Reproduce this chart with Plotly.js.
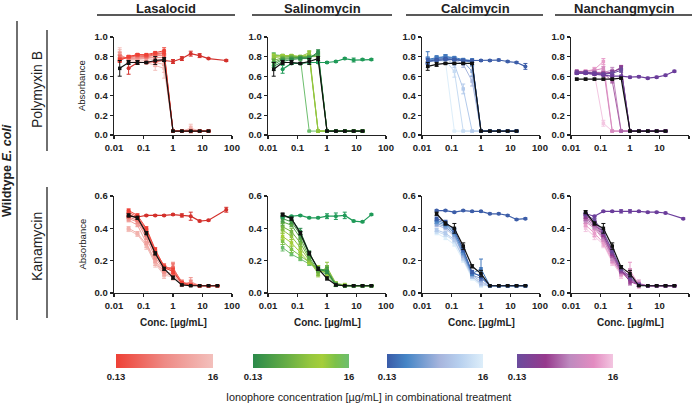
<!DOCTYPE html>
<html><head><meta charset="utf-8">
<script src="https://cdn.plot.ly/plotly-3.0.1.min.js"></script>
<style>html,body{margin:0;padding:0;background:#fff}#chart{width:696px;height:404px}</style>
</head><body><div id="chart"></div>
<script>
const W = 696, H = 404;
const FONT = 'Liberation Sans, Arial, Helvetica, sans-serif';

// ---------- concentrations ----------
const X_TOP   = [0.015625,0.03125,0.0625,0.125,0.25,0.5,1,2,4,8,16];
const X_BOT   = [0.03125,0.0625,0.125,0.25,0.5,1,2,4,8,16,32];
const X_ION_A = [0.03125,0.0625,0.125,0.25,0.5,1,2,4,8,16,64];
const X_ION_B = [0.03125,0.0625,0.125,0.25,0.5,1,2,4,8,16,32];
const X_ION_C = [0.015625,0.03125,0.0625,0.125,0.25,0.5,1,2,4,8,16,32];
const COMBO_CONC = [0.125,0.25,0.5,1,2,4,8,16];

const COLUMNS = ['Lasalocid','Salinomycin','Calcimycin','Nanchangmycin'];
const ROWS = ['Polymyxin B','Kanamycin'];
const X_TICKS = [0.01,0.1,1,10,100];
const X_TICK_TEXT = ['0.01','0.1','1','10','100'];

// ---------- Polymyxin B row ----------
const LAS_PMB_COMBO = [
 [0.76,0.80,0.82,0.82,0.84,0.86,0.04,0.04,0.04,0.04,0.04],
 [0.77,0.80,0.82,0.81,0.83,0.84,0.04,0.04,0.04,0.04,0.04],
 [0.78,0.79,0.81,0.80,0.82,0.83,0.04,0.04,0.04,0.04,0.04],
 [0.79,0.79,0.80,0.80,0.81,0.81,0.04,0.04,0.04,0.04,0.04],
 [0.80,0.78,0.79,0.79,0.79,0.79,0.04,0.04,0.04,0.04,0.04],
 [0.81,0.78,0.78,0.78,0.77,0.76,0.04,0.04,0.04,0.04,0.04],
 [0.82,0.77,0.77,0.76,0.74,0.72,0.04,0.04,0.06,0.04,0.04],
 [0.83,0.76,0.75,0.74,0.71,0.68,0.04,0.04,0.07,0.04,0.04]];
const LAS_PMB_COMBO_ERR = [
 [0.02,0.01,0.01,0.01,0.01,0.03,0,0,0,0,0],
 [0.02,0.01,0.01,0.01,0.01,0.02,0,0,0,0,0],
 [0.03,0.01,0.01,0.01,0.01,0.02,0,0,0,0,0],
 [0.03,0.01,0.01,0.01,0.01,0.02,0,0,0,0,0],
 [0.04,0.02,0.01,0.01,0.02,0.03,0,0,0,0,0],
 [0.04,0.02,0.02,0.02,0.03,0.05,0,0,0.02,0,0],
 [0.05,0.02,0.02,0.02,0.04,0.08,0,0,0.03,0,0],
 [0.06,0.03,0.02,0.02,0.05,0.10,0,0,0.04,0,0]];
const LAS_PMB_BLACK = [0.68,0.74,0.74,0.74,0.76,0.77,0.04,0.04,0.04,0.04,0.04];
const LAS_PMB_BLACK_ERR = [0.08,0.02,0.02,0.01,0.04,0.02,0,0,0,0,0];
const LAS_PMB_ION = [0.68,0.74,0.74,0.75,0.76,0.75,0.78,0.83,0.81,0.78,0.76];
const LAS_PMB_ION_ERR = [0.06,0.02,0.01,0.01,0.01,0.02,0.02,0.025,0.02,0.005,0.01];

const SAL_PMB_COMBO = [
 [0.70,0.75,0.77,0.78,0.78,0.85,0.04,0.04,0.04,0.04,0.04],
 [0.72,0.77,0.78,0.79,0.79,0.83,0.04,0.04,0.04,0.04,0.04],
 [0.74,0.78,0.79,0.79,0.80,0.82,0.04,0.04,0.04,0.04,0.04],
 [0.76,0.79,0.80,0.80,0.80,0.80,0.04,0.04,0.04,0.04,0.04],
 [0.79,0.80,0.81,0.80,0.84,0.04,0.04,0.04,0.04,0.04,0.04],
 [0.80,0.81,0.81,0.80,0.82,0.04,0.04,0.04,0.04,0.04,0.04],
 [0.81,0.81,0.80,0.79,0.80,0.04,0.04,0.04,0.04,0.04,0.04],
 [0.82,0.81,0.80,0.78,0.04,0.04,0.04,0.04,0.04,0.04,0.04]];
const SAL_PMB_COMBO_ERR = [
 [0.04,0.02,0.01,0.01,0.01,0.02,0,0,0,0,0],
 [0.03,0.01,0.01,0.01,0.01,0.02,0,0,0,0,0],
 [0.03,0.01,0.01,0.01,0.01,0.02,0,0,0,0,0],
 [0.02,0.01,0.01,0.01,0.01,0.02,0,0,0,0,0],
 [0.02,0.01,0.01,0.01,0.02,0,0,0,0,0,0],
 [0.02,0.01,0.01,0.01,0.03,0,0,0,0,0,0],
 [0.02,0.01,0.01,0.01,0.02,0,0,0,0,0,0],
 [0.02,0.01,0.01,0.02,0,0,0,0,0,0,0]];
const SAL_PMB_BLACK = [0.67,0.74,0.74,0.73,0.75,0.78,0.04,0.04,0.04,0.04,0.04];
const SAL_PMB_BLACK_ERR = [0.07,0.02,0.02,0.01,0.03,0.02,0,0,0,0,0];
const SAL_PMB_ION = [0.67,0.73,0.73,0.74,0.74,0.74,0.75,0.78,0.765,0.77,0.77];
const SAL_PMB_ION_ERR = [0.04,0.01,0.01,0.01,0.01,0.01,0.01,0.01,0.02,0.01,0.01];

const CAL_PMB_COMBO = [
 [0.75,0.77,0.78,0.77,0.76,0.75,0.04,0.04,0.04,0.04,0.04],
 [0.77,0.79,0.80,0.79,0.77,0.76,0.04,0.04,0.04,0.04,0.04],
 [0.76,0.78,0.80,0.78,0.76,0.74,0.04,0.04,0.04,0.04,0.04],
 [0.77,0.78,0.79,0.78,0.75,0.65,0.04,0.04,0.04,0.04,0.04],
 [0.76,0.78,0.79,0.77,0.72,0.55,0.04,0.04,0.04,0.04,0.04],
 [0.76,0.78,0.78,0.72,0.47,0.04,0.04,0.04,0.04,0.04,0.04],
 [0.75,0.77,0.76,0.65,0.04,0.04,0.04,0.04,0.04,0.04,0.04],
 [0.74,0.76,0.75,0.04,0.04,0.04,0.04,0.04,0.04,0.04,0.04]];
const CAL_PMB_COMBO_ERR = [
 [0.03,0.01,0.01,0.01,0.01,0.01,0,0,0,0,0],
 [0.08,0.02,0.02,0.01,0.01,0.02,0,0,0,0,0],
 [0.03,0.02,0.02,0.01,0.02,0.03,0,0,0,0,0],
 [0.03,0.02,0.02,0.02,0.03,0.05,0,0,0,0,0],
 [0.03,0.02,0.02,0.02,0.03,0.05,0,0,0,0,0],
 [0.03,0.02,0.02,0.03,0.05,0,0,0,0,0,0],
 [0.03,0.02,0.02,0.06,0,0,0,0,0,0,0],
 [0.03,0.02,0.02,0,0,0,0,0,0,0,0]];
const CAL_PMB_BLACK = [0.70,0.72,0.73,0.73,0.73,0.73,0.04,0.04,0.04,0.04,0.04];
const CAL_PMB_BLACK_ERR = [0.04,0.02,0.01,0.01,0.01,0.01,0,0,0,0,0];
const CAL_PMB_ION = [0.75,0.76,0.77,0.77,0.76,0.76,0.76,0.76,0.765,0.75,0.74,0.70];
const CAL_PMB_ION_ERR = [0.02,0.01,0.01,0.01,0.01,0.01,0.01,0.01,0.01,0.01,0.01,0.03];

const NAN_PMB_COMBO = [
 [0.64,0.64,0.63,0.62,0.63,0.66,0.04,0.04,0.04,0.04,0.04],
 [0.63,0.63,0.62,0.62,0.64,0.68,0.04,0.04,0.04,0.04,0.04],
 [0.65,0.64,0.63,0.63,0.64,0.69,0.04,0.04,0.04,0.04,0.04],
 [0.63,0.64,0.64,0.63,0.55,0.04,0.04,0.04,0.04,0.04,0.04],
 [0.64,0.63,0.64,0.64,0.66,0.04,0.04,0.04,0.04,0.04,0.04],
 [0.65,0.65,0.66,0.68,0.04,0.04,0.04,0.04,0.04,0.04,0.04],
 [0.64,0.65,0.67,0.75,0.04,0.04,0.04,0.04,0.04,0.04,0.04],
 [0.63,0.64,0.62,0.12,0.04,0.04,0.04,0.04,0.04,0.04,0.04]];
const NAN_PMB_COMBO_ERR = [
 [0.01,0.01,0.01,0.01,0.01,0.02,0,0,0,0,0],
 [0.01,0.01,0.01,0.01,0.02,0.02,0,0,0,0,0],
 [0.01,0.01,0.01,0.01,0.02,0.02,0,0,0,0,0],
 [0.01,0.01,0.01,0.01,0.02,0,0,0,0,0,0],
 [0.01,0.01,0.01,0.01,0.03,0,0,0,0,0,0],
 [0.01,0.01,0.01,0.02,0,0,0,0,0,0,0],
 [0.01,0.01,0.02,0.03,0,0,0,0,0,0,0],
 [0.01,0.01,0.01,0.03,0,0,0,0,0,0,0]];
const NAN_PMB_BLACK = [0.57,0.57,0.57,0.57,0.57,0.58,0.04,0.04,0.04,0.04,0.04];
const NAN_PMB_BLACK_ERR = [0.01,0.01,0.01,0.01,0.01,0.01,0,0,0,0,0];
const NAN_PMB_ION = [0.63,0.63,0.62,0.61,0.60,0.60,0.59,0.595,0.58,0.59,0.61,0.65];
const NAN_PMB_ION_ERR = [0.01,0.01,0.01,0.01,0.01,0.01,0.01,0.01,0.01,0.01,0.01,0.01];

// ---------- Kanamycin row ----------
const LAS_KAN_COMBO = [
 [0.51,0.48,0.40,0.27,0.16,0.13,0.06,0.05,0.045,0.045,0.045],
 [0.50,0.47,0.39,0.26,0.17,0.14,0.06,0.05,0.045,0.045,0.045],
 [0.49,0.46,0.38,0.25,0.16,0.15,0.07,0.05,0.045,0.045,0.045],
 [0.47,0.45,0.36,0.24,0.15,0.16,0.06,0.06,0.045,0.045,0.045],
 [0.46,0.44,0.34,0.22,0.14,0.15,0.05,0.07,0.045,0.045,0.045],
 [0.45,0.42,0.31,0.20,0.13,0.12,0.05,0.05,0.045,0.045,0.045],
 [0.40,0.37,0.30,0.19,0.12,0.11,0.05,0.05,0.045,0.045,0.045],
 [0.39,0.36,0.29,0.18,0.11,0.10,0.05,0.05,0.045,0.045,0.045]];
const LAS_KAN_COMBO_ERR = [
 [0.01,0.01,0.01,0.01,0.01,0.02,0.01,0,0,0,0],
 [0.01,0.01,0.01,0.01,0.01,0.02,0.01,0,0,0,0],
 [0.01,0.01,0.01,0.01,0.01,0.03,0.01,0,0,0,0],
 [0.01,0.01,0.01,0.01,0.02,0.03,0.01,0.02,0,0,0],
 [0.01,0.01,0.01,0.01,0.02,0.03,0.01,0.025,0,0,0],
 [0.01,0.01,0.01,0.01,0.02,0.02,0.01,0.01,0,0,0],
 [0.01,0.01,0.02,0.02,0.02,0.02,0.01,0.01,0,0,0],
 [0.01,0.01,0.02,0.02,0.02,0.02,0.01,0.01,0,0,0]];
const LAS_KAN_BLACK = [0.48,0.465,0.37,0.245,0.15,0.095,0.05,0.045,0.045,0.045,0.045];
const LAS_KAN_BLACK_ERR = [0.01,0.01,0.01,0.01,0.01,0.01,0.005,0,0,0,0];
const LAS_KAN_ION = [0.475,0.47,0.48,0.48,0.48,0.485,0.48,0.475,0.445,0.45,0.515];
const LAS_KAN_ION_ERR = [0.005,0.005,0.005,0.005,0.005,0.005,0.01,0.025,0.005,0.005,0.015];

const SAL_KAN_COMBO = [
 [0.48,0.46,0.38,0.25,0.15,0.13,0.05,0.045,0.045,0.045,0.045],
 [0.46,0.44,0.36,0.24,0.15,0.14,0.05,0.045,0.045,0.045,0.045],
 [0.44,0.42,0.34,0.22,0.14,0.14,0.05,0.045,0.045,0.045,0.045],
 [0.41,0.38,0.31,0.21,0.13,0.15,0.055,0.045,0.045,0.045,0.045],
 [0.39,0.35,0.28,0.20,0.12,0.16,0.06,0.05,0.045,0.045,0.045],
 [0.35,0.31,0.25,0.19,0.14,0.13,0.05,0.045,0.045,0.045,0.045],
 [0.32,0.27,0.23,0.19,0.15,0.12,0.05,0.045,0.045,0.045,0.045],
 [0.28,0.24,0.21,0.18,0.15,0.11,0.05,0.045,0.045,0.045,0.045]];
const SAL_KAN_COMBO_ERR = [
 [0.01,0.01,0.02,0.01,0.01,0.01,0.01,0,0,0,0],
 [0.02,0.01,0.02,0.01,0.01,0.02,0.01,0,0,0,0],
 [0.02,0.01,0.02,0.01,0.01,0.02,0.01,0,0,0,0],
 [0.02,0.02,0.02,0.01,0.02,0.02,0.01,0,0,0,0],
 [0.02,0.02,0.02,0.01,0.02,0.03,0.01,0.01,0,0,0],
 [0.02,0.02,0.02,0.01,0.03,0.02,0.01,0,0,0,0],
 [0.02,0.02,0.02,0.01,0.02,0.02,0.01,0,0,0,0],
 [0.02,0.01,0.01,0.01,0.02,0.02,0.01,0,0,0,0]];
const SAL_KAN_BLACK = [0.485,0.46,0.37,0.245,0.15,0.09,0.05,0.045,0.045,0.045,0.045];
const SAL_KAN_BLACK_ERR = [0.01,0.01,0.01,0.01,0.01,0.01,0.005,0,0,0,0];
const SAL_KAN_ION = [0.47,0.475,0.48,0.465,0.465,0.475,0.475,0.48,0.445,0.44,0.485];
const SAL_KAN_ION_ERR = [0.005,0.005,0.005,0.005,0.005,0.015,0.02,0.02,0.005,0.005,0.005];

const CAL_KAN_COMBO = [
 [0.46,0.44,0.39,0.27,0.13,0.10,0.045,0.045,0.045,0.045,0.045],
 [0.45,0.43,0.38,0.26,0.12,0.15,0.045,0.045,0.045,0.045,0.045],
 [0.44,0.42,0.37,0.25,0.12,0.11,0.045,0.045,0.045,0.045,0.045],
 [0.43,0.41,0.36,0.24,0.11,0.09,0.045,0.045,0.045,0.045,0.045],
 [0.42,0.40,0.35,0.23,0.11,0.07,0.045,0.045,0.045,0.045,0.045],
 [0.39,0.37,0.33,0.22,0.10,0.06,0.045,0.045,0.045,0.045,0.045],
 [0.38,0.36,0.32,0.21,0.10,0.05,0.045,0.045,0.045,0.045,0.045],
 [0.37,0.34,0.30,0.20,0.09,0.045,0.045,0.045,0.045,0.045,0.045]];
const CAL_KAN_COMBO_ERR = [
 [0.01,0.01,0.01,0.01,0.01,0.02,0,0,0,0,0],
 [0.01,0.01,0.01,0.01,0.01,0.06,0,0,0,0,0],
 [0.01,0.01,0.01,0.01,0.01,0.02,0,0,0,0,0],
 [0.01,0.01,0.01,0.01,0.01,0.02,0,0,0,0,0],
 [0.01,0.01,0.01,0.01,0.01,0.02,0,0,0,0,0],
 [0.01,0.01,0.01,0.01,0.01,0.01,0,0,0,0,0],
 [0.01,0.01,0.01,0.01,0.01,0.01,0,0,0,0,0],
 [0.01,0.01,0.01,0.01,0.01,0.01,0,0,0,0,0]];
const CAL_KAN_BLACK = [0.49,0.43,0.40,0.29,0.165,0.12,0.045,0.045,0.045,0.045,0.045];
const CAL_KAN_BLACK_ERR = [0.01,0.01,0.03,0.02,0.01,0.02,0,0,0,0,0];
const CAL_KAN_ION = [0.51,0.51,0.50,0.51,0.505,0.505,0.49,0.49,0.48,0.455,0.46];
const CAL_KAN_ION_ERR = [0.005,0.005,0.005,0.005,0.005,0.005,0.005,0.005,0.005,0.005,0.005];

const NAN_KAN_COMBO = [
 [0.49,0.45,0.38,0.26,0.15,0.10,0.05,0.045,0.045,0.045,0.045],
 [0.48,0.44,0.37,0.25,0.14,0.09,0.05,0.045,0.045,0.045,0.045],
 [0.47,0.43,0.36,0.24,0.14,0.07,0.05,0.045,0.045,0.045,0.045],
 [0.46,0.42,0.35,0.23,0.13,0.08,0.05,0.045,0.045,0.045,0.045],
 [0.45,0.41,0.34,0.22,0.13,0.10,0.05,0.045,0.045,0.045,0.045],
 [0.44,0.40,0.33,0.21,0.12,0.12,0.06,0.045,0.045,0.045,0.045],
 [0.42,0.37,0.31,0.20,0.12,0.14,0.05,0.045,0.045,0.045,0.045],
 [0.40,0.35,0.30,0.19,0.11,0.12,0.05,0.045,0.045,0.045,0.045]];
const NAN_KAN_COMBO_ERR = [
 [0.01,0.01,0.01,0.01,0.01,0.01,0.01,0,0,0,0],
 [0.01,0.01,0.01,0.01,0.01,0.01,0.01,0,0,0,0],
 [0.01,0.01,0.01,0.01,0.01,0.02,0.01,0,0,0,0],
 [0.01,0.01,0.01,0.01,0.01,0.02,0.01,0,0,0,0],
 [0.01,0.01,0.01,0.02,0.01,0.02,0.01,0,0,0,0],
 [0.01,0.01,0.01,0.02,0.01,0.03,0.02,0,0,0,0],
 [0.01,0.02,0.02,0.02,0.02,0.05,0.02,0,0,0,0],
 [0.02,0.02,0.02,0.02,0.02,0.03,0.01,0,0,0,0]];
const NAN_KAN_BLACK = [0.50,0.43,0.40,0.29,0.16,0.12,0.045,0.045,0.045,0.045,0.045];
const NAN_KAN_BLACK_ERR = [0.01,0.01,0.03,0.02,0.01,0.02,0,0,0,0,0];
const NAN_KAN_ION = [0.49,0.475,0.505,0.505,0.505,0.505,0.505,0.50,0.50,0.495,0.46];
const NAN_KAN_ION_ERR = [0.005,0.005,0.005,0.005,0.01,0.01,0.005,0.005,0.005,0.005,0.005];

// ---------- colour scales ----------
const SCALE_RED = [[0,'#EE4136'],[0.5,'#EE8A85'],[1,'#F3C0BC']];
const SCALE_GREEN = [[0,'#2B8A4B'],[0.35,'#66AD45'],[0.6,'#96C73E'],[0.72,'#A5CE3A'],[0.86,'#7CC149'],[1,'#6DBE6E']];
const SCALE_BLUE = [[0,'#3A5BA8'],[0.2,'#4585C6'],[0.55,'#A7B5DD'],[0.75,'#B6CFEE'],[1,'#DDEEFA']];
const SCALE_PURPLE = [[0,'#6B4C9D'],[0.3,'#97398D'],[0.55,'#BE8ABF'],[0.8,'#E38CC1'],[1,'#F3C6E1']];
const ION_COLORS = ['#D3302B','#1F9A58','#3C5DA8','#6B3D9B'];
const SCALES = [SCALE_RED, SCALE_GREEN, SCALE_BLUE, SCALE_PURPLE];

function hex2rgb(h){return [1,3,5].map(i=>parseInt(h.substr(i,2),16));}
function sampleScale(sc,t){
  for(let i=1;i<sc.length;i++){
    if(t<=sc[i][0]+1e-9){
      const a=sc[i-1],b=sc[i];const f=(t-a[0])/(b[0]-a[0]||1);
      const ca=hex2rgb(a[1]),cb=hex2rgb(b[1]);
      const c=ca.map((v,k)=>Math.round(v+(cb[k]-v)*f));
      return 'rgb('+c.join(',')+')';
    }
  }
  return sc[sc.length-1][1];
}

// ---------- geometry (pixels) ----------
const X_DOM_PX = [[114,232],[268,386],[422,540],[571,689]];
const Y_DOM_PX = [[37,135],[196,293]];
const Y_MAX = [1.0, 0.6];
const px = v => v/W, py = v => 1 - v/H;

const PANELS = [
 [X_TOP,LAS_PMB_COMBO,LAS_PMB_COMBO_ERR,X_TOP,LAS_PMB_BLACK,LAS_PMB_BLACK_ERR,X_ION_A,LAS_PMB_ION,LAS_PMB_ION_ERR],
 [X_TOP,SAL_PMB_COMBO,SAL_PMB_COMBO_ERR,X_TOP,SAL_PMB_BLACK,SAL_PMB_BLACK_ERR,X_ION_B,SAL_PMB_ION,SAL_PMB_ION_ERR],
 [X_TOP,CAL_PMB_COMBO,CAL_PMB_COMBO_ERR,X_TOP,CAL_PMB_BLACK,CAL_PMB_BLACK_ERR,X_ION_C,CAL_PMB_ION,CAL_PMB_ION_ERR],
 [X_TOP,NAN_PMB_COMBO,NAN_PMB_COMBO_ERR,X_TOP,NAN_PMB_BLACK,NAN_PMB_BLACK_ERR,X_ION_C,NAN_PMB_ION,NAN_PMB_ION_ERR],
 [X_BOT,LAS_KAN_COMBO,LAS_KAN_COMBO_ERR,X_BOT,LAS_KAN_BLACK,LAS_KAN_BLACK_ERR,X_ION_A,LAS_KAN_ION,LAS_KAN_ION_ERR],
 [X_BOT,SAL_KAN_COMBO,SAL_KAN_COMBO_ERR,X_BOT,SAL_KAN_BLACK,SAL_KAN_BLACK_ERR,X_ION_B,SAL_KAN_ION,SAL_KAN_ION_ERR],
 [X_BOT,CAL_KAN_COMBO,CAL_KAN_COMBO_ERR,X_BOT,CAL_KAN_BLACK,CAL_KAN_BLACK_ERR,X_ION_B,CAL_KAN_ION,CAL_KAN_ION_ERR],
 [X_BOT,NAN_KAN_COMBO,NAN_KAN_COMBO_ERR,X_BOT,NAN_KAN_BLACK,NAN_KAN_BLACK_ERR,X_ION_A,NAN_KAN_ION,NAN_KAN_ION_ERR]
];

const traces = [];
const layout = {
  width: W, height: H, margin:{l:0,r:0,t:0,b:0},
  paper_bgcolor:'#fff', plot_bgcolor:'rgba(0,0,0,0)',
  showlegend:false, font:{family:FONT,color:'#222'},
  annotations:[], shapes:[]
};

function line(x,y,err,color,xa,ya,w,sym,size){
  traces.push({type:'scatter',mode:'lines+markers',x:x,y:y,xaxis:xa,yaxis:ya,
    line:{color:color,width:w},marker:{color:color,size:size,symbol:sym},
    error_y:{type:'data',array:err,visible:true,color:color,thickness:1,width:2},
    hoverinfo:'skip',cliponaxis:false});
}

PANELS.forEach((p,i)=>{
  const row=Math.floor(i/4), col=i%4;
  const n=i+1, xa='x'+(n>1?n:''), ya='y'+(n>1?n:'');
  const [xc,combos,cerr,xb,black,berr,xi,ion,ierr]=p;
  for(let k=combos.length-1;k>=0;k--){
    const c=sampleScale(SCALES[col],k/(combos.length-1));
    line(xc,combos[k],cerr[k],c,xa,ya,1,'square',3.5);
  }
  line(xi,ion,ierr,ION_COLORS[col],xa,ya,1.2,'circle',4);
  line(xb,black,berr,'#111',xa,ya,1.2,'square',3.5);
  const xd=X_DOM_PX[col], yd=Y_DOM_PX[row];
  layout['xaxis'+(n>1?n:'')]={
    domain:[px(xd[0]),px(xd[1])], anchor:ya, type:'log', range:[-2,2],
    showline:true, linecolor:'#222', linewidth:1.3, mirror:false,
    ticks:'outside', ticklen:3, tickwidth:1.2, tickcolor:'#222',
    tickvals:X_TICKS, ticktext:X_TICK_TEXT.map(t=>'<b>'+t+'</b>'),
    tickfont:{size:9.5,family:FONT,color:'#222'}, showgrid:false, zeroline:false, fixedrange:true
  };
  const ymax=Y_MAX[row];
  const yv=[]; for(let v=0; v<=ymax+1e-9; v+=0.2) yv.push(+v.toFixed(1));
  layout['yaxis'+(n>1?n:'')]={
    domain:[py(yd[1]),py(yd[0])], anchor:xa, range:[0,ymax],
    showline:true, linecolor:'#222', linewidth:1.3,
    ticks:'outside', ticklen:3, tickwidth:1.2, tickcolor:'#222',
    tickvals:yv, ticktext:yv.map(v=>'<b>'+v.toFixed(1)+'</b>'),
    tickfont:{size:9.5,family:FONT,color:'#222'}, showgrid:false, zeroline:false, fixedrange:true
  };
});

// colour bars
const CB_X_PX = [[116,213],[253,349],[387,483],[517,613]];
SCALES.forEach((sc,k)=>{
  const cx=(CB_X_PX[k][0]+CB_X_PX[k][1])/2, len=CB_X_PX[k][1]-CB_X_PX[k][0];
  traces.push({type:'scatter',mode:'markers',x:[0.01,0.01],y:[-5,-5],xaxis:'x',yaxis:'y',
    hoverinfo:'skip',cliponaxis:true,
    marker:{size:1,color:[COMBO_CONC[0],COMBO_CONC[7]],cmin:0.13,cmax:16,colorscale:sc,showscale:true,
      colorbar:{orientation:'h',x:px(cx),xanchor:'center',y:py(354),yanchor:'top',
        len:len,lenmode:'pixels',thickness:14,thicknessmode:'pixels',xpad:0,ypad:0,
        outlinewidth:0,ticks:'',tickvals:[0.13,16],ticktext:['<b>0.13</b>','<b>16</b>'],
        tickfont:{size:9.5,family:FONT,color:'#222'}}}});
});

// annotations
const A = layout.annotations, S = layout.shapes;
const TITLE_X = [166,322,475,624];
const TITLE_LINES = [[97,235],[252,392],[406,543],[555,692]];
COLUMNS.forEach((t,k)=>{
  A.push({text:'<b>'+t+'</b>',x:px(TITLE_X[k]),y:py(8),xref:'paper',yref:'paper',showarrow:false,
    font:{size:13,family:FONT,color:'#222'},xanchor:'center',yanchor:'middle'});
  S.push({type:'line',xref:'paper',yref:'paper',x0:px(TITLE_LINES[k][0]),x1:px(TITLE_LINES[k][1]),
    y0:py(15),y1:py(15),line:{color:'#222',width:1.3}});
  A.push({text:'<b>Conc. [µg/mL]</b>',x:px((X_DOM_PX[k][0]+X_DOM_PX[k][1])/2),y:py(322),xref:'paper',yref:'paper',
    showarrow:false,font:{size:10,family:FONT,color:'#222'},xanchor:'center',yanchor:'middle'});
});
const ROW_Y = [90,247], ROW_LINES=[[30,151],[187,318]];
ROWS.forEach((t,k)=>{
  A.push({text:t,x:px(37),y:py(ROW_Y[k]),xref:'paper',yref:'paper',showarrow:false,textangle:-90,
    font:{size:14,family:FONT,color:'#222'},xanchor:'center',yanchor:'middle'});
  S.push({type:'line',xref:'paper',yref:'paper',x0:px(47),x1:px(47),y0:py(ROW_LINES[k][0]),y1:py(ROW_LINES[k][1]),
    line:{color:'#222',width:1.3}});
  A.push({text:'Absorbance',x:px(82),y:py((Y_DOM_PX[k][0]+Y_DOM_PX[k][1])/2),xref:'paper',yref:'paper',
    showarrow:false,textangle:-90,font:{size:9.5,family:FONT,color:'#222'},xanchor:'center',yanchor:'middle'});
});
A.push({text:'<b>Wildtype <i>E. coli</i></b>',x:px(7),y:py(171),xref:'paper',yref:'paper',showarrow:false,
  textangle:-90,font:{size:12.5,family:FONT,color:'#222'},xanchor:'center',yanchor:'middle'});
S.push({type:'line',xref:'paper',yref:'paper',x0:px(17),x1:px(17),y0:py(21),y1:py(320),line:{color:'#222',width:1.3}});
A.push({text:'Ionophore concentration [µg/mL] in combinational treatment',x:px(368),y:py(397),xref:'paper',yref:'paper',
  showarrow:false,font:{size:10.8,family:FONT,color:'#222'},xanchor:'center',yanchor:'middle'});

Plotly.newPlot('chart',traces,layout,{staticPlot:true,displayModeBar:false});
</script></body></html>
